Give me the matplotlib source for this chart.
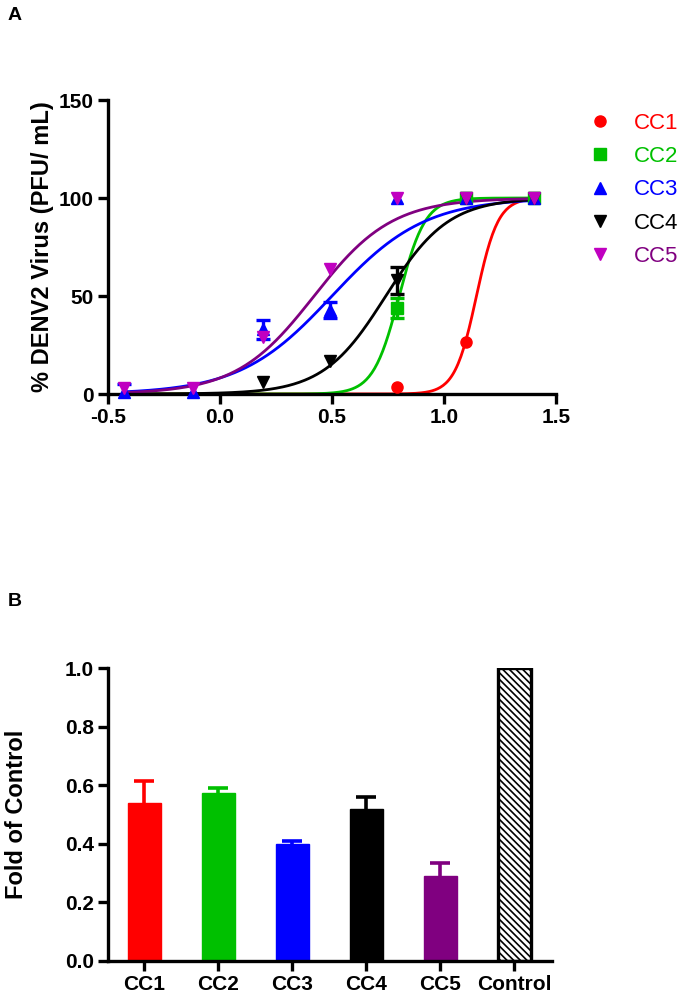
import numpy as np
import matplotlib
matplotlib.use("Agg")
import matplotlib.pyplot as plt
from matplotlib.lines import Line2D

plt.rcParams["font.family"] = ["Liberation Sans", "DejaVu Sans"]
plt.rcParams["hatch.linewidth"] = 1.2
plt.rcParams["axes.unicode_minus"] = False

nan = np.nan

# panel A: dose response (log concentration)
log_conc = [-0.43, -0.12, 0.19, 0.49, 0.79, 1.10, 1.40]
series = ["CC1", "CC2", "CC3", "CC4", "CC5"]
cc1_y = [nan, nan, nan, nan, 3.5, 26.5, 100]
cc2_y = [nan, nan, nan, nan, 44, 100, 100]
cc3_y = [1, 1, 33, 43, 100, 100, 100]
cc4_y = [nan, nan, 6, 17, 58, 100, 100]
cc5_y = [3, 3, 29, 64, 100, 100, 100]
cc1_err = [0, 0, 0, 0, 0, 0, 0]
cc2_err = [0, 0, 0, 0, 5, 0, 0]
cc3_err = [4, 0, 5, 4, 0, 0, 0]
cc4_err = [0, 0, 0, 0, 7, 0, 0]
cc5_err = [0, 0, 0, 0, 0, 0, 0]
# fitted sigmoid parameters (bottom 0, top 100)
log_ec50 = [1.145, 0.80, 0.50, 0.74, 0.42]
hill = [9.0, 7.5, 2.1, 3.1, 2.5]

# panel B: fold of control
bar_labels = ["CC1", "CC2", "CC3", "CC4", "CC5", "Control"]
fold = [0.54, 0.575, 0.40, 0.52, 0.29, 1.0]
fold_err = [0.075, 0.015, 0.01, 0.04, 0.045, 0]

line_colors = ["#FF0000", "#00C000", "#0000FF", "#000000", "#800080"]
marker_colors = ["#FF0000", "#00C000", "#0000FF", "#000000", "#C000C0"]
text_colors = ["#FF0000", "#00C000", "#0000FF", "#000000", "#800080"]
markers = ["o", "s", "^", "v", "v"]
bar_colors = ["#FF0000", "#00C000", "#0000FF", "#000000", "#800080", "white"]

ys = [cc1_y, cc2_y, cc3_y, cc4_y, cc5_y]
errs = [cc1_err, cc2_err, cc3_err, cc4_err, cc5_err]

fig = plt.figure(figsize=(6.88, 9.94), dpi=100)
SPINE_W = 2.4


def style_axes(ax):
    for side in ("top", "right"):
        ax.spines[side].set_visible(False)
    for side in ("left", "bottom"):
        ax.spines[side].set_linewidth(SPINE_W)
    ax.tick_params(width=SPINE_W, length=7, labelsize=15, pad=3)
    for lab in ax.get_xticklabels() + ax.get_yticklabels():
        lab.set_fontweight("bold")


# ---- panel A ----
ax1 = fig.add_axes([108 / 688, 1 - 394 / 994, 448 / 688, 294 / 994])
xs = np.linspace(log_conc[0], log_conc[-1], 300)
for i in range(len(series)):
    curve = 100 / (1 + 10 ** ((log_ec50[i] - xs) * hill[i]))
    ax1.plot(xs, curve, color=line_colors[i], lw=2.0, zorder=2)
for i in range(len(series)):
    ex = [x for x, y, e in zip(log_conc, ys[i], errs[i]) if e > 0]
    ey = [y for x, y, e in zip(log_conc, ys[i], errs[i]) if e > 0]
    ee = [e for e in errs[i] if e > 0]
    if ee:
        ax1.errorbar(ex, ey, yerr=ee, fmt="none", ecolor=marker_colors[i],
                     capsize=5, capthick=2.4, elinewidth=2.4, zorder=3)
    ms = 8 if markers[i] in ("o", "s") else 9
    ax1.plot(log_conc, ys[i], ls="none", marker=markers[i], color=marker_colors[i],
             ms=ms, zorder=4, clip_on=False)
ax1.set_xlim(-0.5, 1.5)
ax1.set_ylim(0, 150)
ax1.set_xticks([-0.5, 0.0, 0.5, 1.0, 1.5])
ax1.set_yticks([0, 50, 100, 150])
style_axes(ax1)
ax1.set_ylabel("% DENV2 Virus (PFU/ mL)", fontsize=17, fontweight="bold")
ax1.yaxis.set_label_coords(-0.12, 0.5)

handles = [Line2D([], [], ls="none", marker=markers[i], color=marker_colors[i], ms=8)
           for i in range(len(series))]
leg = fig.legend(handles, series, loc="upper left", frameon=False, fontsize=16,
                 bbox_to_anchor=(569 / 688, 1 - 93 / 994), handlelength=1.0,
                 handletextpad=1.0, labelspacing=0.55)
for txt, col in zip(leg.get_texts(), text_colors):
    txt.set_color(col)

fig.text(8 / 688, 1 - 16 / 994, "A", fontsize=14, fontweight="bold", va="center")

# ---- panel B ----
ax2 = fig.add_axes([108 / 688, 1 - 961 / 994, 444 / 688, 293 / 994])
pos = np.arange(len(bar_labels))
bars = ax2.bar(pos, fold, width=0.45, color=bar_colors, edgecolor=bar_colors, zorder=2)
bars[-1].set_edgecolor("black")
bars[-1].set_linewidth(2.4)
bars[-1].set_hatch("\\\\\\\\\\")
for i in range(len(bar_labels) - 1):
    _, caps, _ = ax2.errorbar(pos[i], fold[i], yerr=[[0], [fold_err[i]]], fmt="none",
                              ecolor=bar_colors[i], capsize=7, capthick=2.6,
                              elinewidth=2.6, zorder=1)
    caps[0].set_visible(False)  # upper error only
ax2.set_xlim(-0.49, 5.51)
ax2.set_ylim(0, 1.0)
ax2.set_xticks(pos)
ax2.set_xticklabels(bar_labels)
ax2.set_yticks([0.0, 0.2, 0.4, 0.6, 0.8, 1.0])
ax2.set_yticklabels(["0.0", "0.2", "0.4", "0.6", "0.8", "1.0"])
style_axes(ax2)
ax2.set_ylabel("Fold of Control", fontsize=17, fontweight="bold")
ax2.yaxis.set_label_coords(-0.18, 0.5)

fig.text(8 / 688, 1 - 602 / 994, "B", fontsize=14, fontweight="bold", va="center")

fig.savefig("out.png", dpi=100)
